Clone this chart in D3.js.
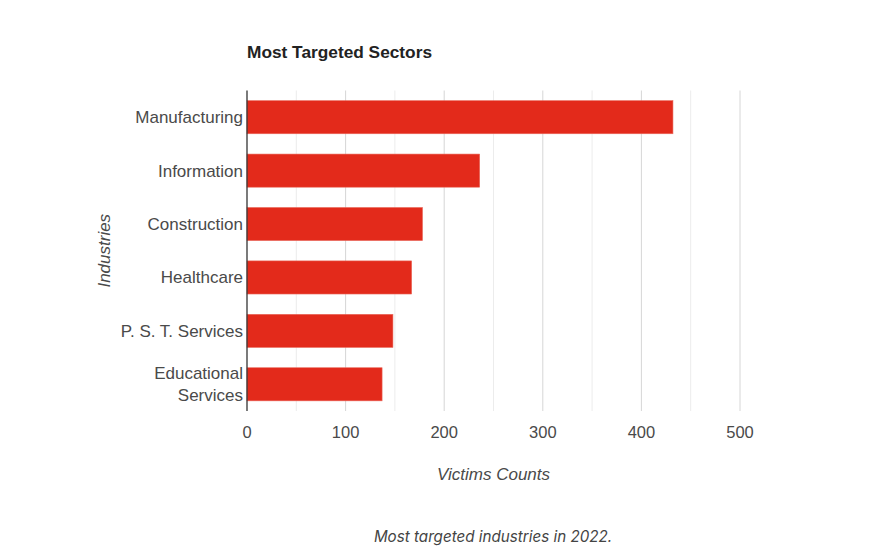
<!DOCTYPE html>
<html><head><meta charset="utf-8">
<script src="https://cdn.jsdelivr.net/npm/d3@7"></script>
<style>body{margin:0;background:#fff;} svg{display:block;}</style>
</head><body>
<svg id="c" width="876" height="560"></svg>
<script>
const categories = [["Manufacturing"],["Information"],["Construction"],["Healthcare"],["P. S. T. Services"],["Educational","Services"]];
const values = [432, 236, 178, 167, 148, 137];
const xTicks = [0, 100, 200, 300, 400, 500];
const minorTicks = [50, 150, 250, 350, 450];
const title = "Most Targeted Sectors";
const xTitle = "Victims Counts";
const yTitle = "Industries";
const caption = "Most targeted industries in 2022.";

const svg = d3.select("#c");
const m = {l: 247, r: 740, t: 90.5, b: 411};
const x = d3.scaleLinear().domain([0, 500]).range([m.l, m.r]);
const y = d3.scaleBand().domain(d3.range(categories.length)).range([m.t, m.b]).paddingInner(0.38).paddingOuter(0.19);

const font = "Arial, 'Liberation Sans', sans-serif";

// gridlines
svg.append("g").selectAll("line").data(minorTicks).join("line")
  .attr("x1", d => x(d)).attr("x2", d => x(d)).attr("y1", m.t).attr("y2", m.b)
  .attr("stroke", "#ececec").attr("stroke-width", 1);
svg.append("g").selectAll("line").data(xTicks.filter(d => d > 0)).join("line")
  .attr("x1", d => x(d)).attr("x2", d => x(d)).attr("y1", m.t).attr("y2", m.b)
  .attr("stroke", "#d6d6d6").attr("stroke-width", 1);

// bars
svg.append("g").selectAll("rect").data(values).join("rect")
  .attr("x", x(0)).attr("y", (d, i) => y(i))
  .attr("width", d => x(d) - x(0)).attr("height", y.bandwidth())
  .attr("fill", "#e32a1b").attr("stroke", "#ea6a5c").attr("stroke-width", 0.6);

// axis line
svg.append("line").attr("x1", x(0)).attr("x2", x(0)).attr("y1", m.t).attr("y2", m.b)
  .attr("stroke", "#333").attr("stroke-width", 1.3);

// x tick labels
svg.append("g").selectAll("text").data(xTicks).join("text")
  .attr("x", d => x(d)).attr("y", 438).attr("text-anchor", "middle")
  .attr("font-family", font).attr("font-size", 16.5).attr("fill", "#4a4a4a")
  .text(d => d);

// y labels
const yl = svg.append("g").selectAll("text").data(categories).join("text")
  .attr("text-anchor", "end").attr("font-family", font).attr("font-size", 17).attr("fill", "#4a4a4a");
yl.each(function(lines, i) {
  const t = d3.select(this);
  const cy = y(i) + y.bandwidth() / 2;
  const lh = 22;
  lines.forEach((s, k) => {
    t.append("tspan").attr("x", 243).attr("y", cy + 6 + (k - (lines.length - 1) / 2) * lh).text(s);
  });
});

// title
svg.append("text").attr("x", 247).attr("y", 58).attr("font-family", font)
  .attr("font-size", 17.3).attr("font-weight", "bold").attr("fill", "#222").text(title);

// axis titles
svg.append("text").attr("x", (m.l + m.r) / 2).attr("y", 480).attr("text-anchor", "middle")
  .attr("font-family", font).attr("font-size", 17).attr("font-style", "italic").attr("fill", "#4a4a4a").text(xTitle);
svg.append("text").attr("transform", `translate(110,${(m.t + m.b) / 2}) rotate(-90)`).attr("text-anchor", "middle")
  .attr("font-family", font).attr("font-size", 17).attr("font-style", "italic").attr("fill", "#4a4a4a").text(yTitle);

// caption
svg.append("text").attr("x", 493).attr("y", 542).attr("text-anchor", "middle")
  .attr("font-family", "Inter, Roboto, sans-serif").attr("font-size", 15.2).attr("font-style", "italic").attr("fill", "#444").text(caption);
</script>
</body></html>
